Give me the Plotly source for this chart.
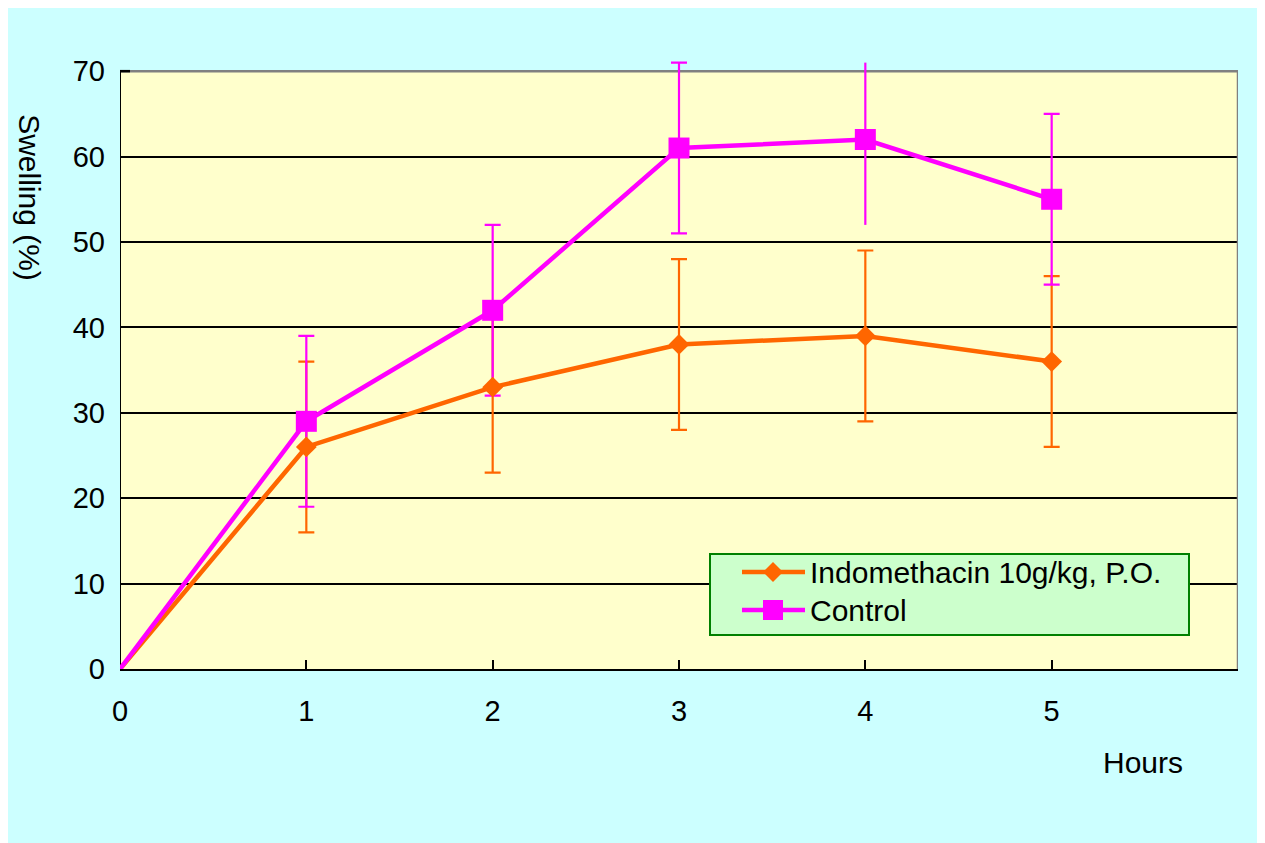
import plotly.graph_objects as go

# ---- data ----
hours = [0, 1, 2, 3, 4, 5]
x_tick_vals = [0, 1, 2, 3, 4, 5, 6]
x_tick_text = ["0", "1", "2", "3", "4", "5", ""]
y_tick_vals = [0, 10, 20, 30, 40, 50, 60, 70]

indo_name = "Indomethacin 10g/kg, P.O."
indo = [0, 26, 33, 38, 39, 36]
indo_err_plus = [None, 10, 10, 10, 10, 10]
indo_err_minus = [None, 10, 10, 10, 10, 10]
indo_capped = [False, True, True, True, True, True]

control_name = "Control"
control = [0, 29, 42, 61, 62, 55]
control_err_plus = [None, 10, 10, 10, 9, 10]
control_err_minus = [None, 10, 10, 10, 10, 10]
control_capped = [False, True, True, True, False, True]

X_MAX, Y_MAX, Y_TOP = 6, 70, 74

ORANGE = "#FF6600"
MAGENTA = "#FF00FF"
FONT = "Liberation Sans, Arial, sans-serif"

W, H = 1265, 843
OFF = 8  # page body margin
# screen pixel positions of the frame (reference coords)
SL, SR, ST70, SB = 120, 1238, 71, 669
L, R, B = SL - OFF, SR - OFF, SB - OFF
PPU_Y = (SB - ST70) / Y_MAX
T = B - Y_TOP * PPU_Y


def dx(sx):
    return (sx - SL) * X_MAX / (SR - SL)


def dy(sy):
    return (SB - sy) / PPU_Y


fig = go.Figure()


def add_errors(name, xs, ys, ep, em, capped, color):
    for cap_flag in (True, False):
        sel = [i for i in range(len(xs)) if ep[i] is not None and capped[i] == cap_flag]
        if not sel:
            continue
        fig.add_trace(go.Scatter(
            x=[xs[i] for i in sel], y=[ys[i] for i in sel],
            mode="markers", marker=dict(size=0.1, opacity=0, color=color),
            error_y=dict(type="data", symmetric=False,
                         array=[ep[i] for i in sel], arrayminus=[em[i] for i in sel],
                         color=color, thickness=2.2, width=8 if cap_flag else 0),
            showlegend=False, hoverinfo="skip", name=name + " error"))


add_errors(indo_name, hours, indo, indo_err_plus, indo_err_minus, indo_capped, ORANGE)
add_errors(control_name, hours, control, control_err_plus, control_err_minus, control_capped, MAGENTA)

fig.add_trace(go.Scatter(
    x=hours, y=indo, name=indo_name, mode="lines+markers",
    line=dict(color=ORANGE, width=4.5),
    marker=dict(symbol="diamond", size=[0] + [16] * (len(hours) - 1), color=ORANGE,
                opacity=1, line=dict(width=0)),
    cliponaxis=False, showlegend=False))
fig.add_trace(go.Scatter(
    x=hours, y=control, name=control_name, mode="lines+markers",
    line=dict(color=MAGENTA, width=4.5),
    marker=dict(symbol="square", size=[0] + [21] * (len(hours) - 1), color=MAGENTA,
                opacity=1, line=dict(width=0)),
    cliponaxis=False, showlegend=False))

shapes = []
# yellow plot area (0..6, 0..70)
shapes.append(dict(type="rect", xref="x", yref="y", x0=0, x1=X_MAX, y0=0, y1=Y_MAX,
                   fillcolor="#FFFFCC", line=dict(width=0), layer="below"))
# gray top / right frame, black left axis
shapes.append(dict(type="line", xref="x", yref="y", x0=0, x1=X_MAX, y0=Y_MAX, y1=Y_MAX,
                   line=dict(color="#808080", width=2.5), layer="between"))
shapes.append(dict(type="line", xref="x", yref="y", x0=X_MAX, x1=X_MAX, y0=0, y1=Y_MAX,
                   line=dict(color="#808080", width=2.5), layer="between"))
shapes.append(dict(type="line", xref="x", yref="y", x0=0, x1=0, y0=0, y1=Y_MAX,
                   line=dict(color="black", width=2), layer="between"))
shapes.append(dict(type="line", xref="x", yref="y", x0=0, x1=dx(130), y0=Y_MAX, y1=Y_MAX,
                   line=dict(color="black", width=2.5), layer="between"))

# custom legend box
shapes.append(dict(type="rect", xref="x", yref="y", x0=dx(710), x1=dx(1189), y0=dy(635), y1=dy(554),
                   fillcolor="#CCFFCC", line=dict(color="#008000", width=2)))
rows = [(572, ORANGE, "diamond", indo_name), (610, MAGENTA, "square", control_name)]
annotations = []
for yy, col, sym, label in rows:
    shapes.append(dict(type="line", xref="x", yref="y", x0=dx(742), x1=dx(805), y0=dy(yy), y1=dy(yy),
                       line=dict(color=col, width=4.5)))
    cx = 773
    if sym == "diamond":
        path = (f"M {dx(cx - 10)} {dy(yy)} L {dx(cx)} {dy(yy - 10)} L {dx(cx + 10)} {dy(yy)} "
                f"L {dx(cx)} {dy(yy + 10)} Z")
        shapes.append(dict(type="path", xref="x", yref="y", path=path,
                           fillcolor=col, line=dict(color=col, width=0)))
    else:
        shapes.append(dict(type="rect", xref="x", yref="y", x0=dx(cx - 10), x1=dx(cx + 10),
                           y0=dy(yy + 10), y1=dy(yy - 10), fillcolor=col, line=dict(width=0)))
    annotations.append(dict(text=label, xref="x", yref="y", x=dx(808), y=dy(yy),
                            xanchor="left", yanchor="middle", showarrow=False,
                            font=dict(family=FONT, size=30, color="black")))

annotations.append(dict(text="Hours", xref="paper", yref="paper", x=dx(1143) / X_MAX, y=dy(763) / Y_TOP,
                        xanchor="center", yanchor="middle", showarrow=False,
                        font=dict(family=FONT, size=30, color="black")))
annotations.append(dict(text="Swelling (%)", xref="paper", yref="paper", x=dx(30) / X_MAX, y=dy(197) / Y_TOP,
                        xanchor="center", yanchor="middle", showarrow=False, textangle=90,
                        font=dict(family=FONT, size=30, color="black")))

fig.update_layout(
    width=W, height=H,
    margin=dict(l=L, r=W - R, t=T, b=H - B, autoexpand=False),
    paper_bgcolor="#CCFFFF", plot_bgcolor="rgba(0,0,0,0)",
    showlegend=False,
    shapes=shapes, annotations=annotations,
    font=dict(family=FONT, size=29, color="black"),
)
fig.update_xaxes(range=[0, X_MAX], tickvals=x_tick_vals, ticktext=x_tick_text,
                 showgrid=False, zeroline=False, showline=True, linecolor="black", linewidth=2,
                 ticks="inside", ticklen=9, tickwidth=2, tickcolor="black",
                 ticklabelstandoff=15, tickfont=dict(family=FONT, size=29, color="black"))
fig.update_yaxes(range=[0, Y_TOP], tickvals=y_tick_vals,
                 showgrid=True, gridcolor="black", gridwidth=2, zeroline=False,
                 showline=False,
                 ticks="", ticklabelstandoff=14, tickfont=dict(family=FONT, size=29, color="black"))

fig.write_html("out.html")
